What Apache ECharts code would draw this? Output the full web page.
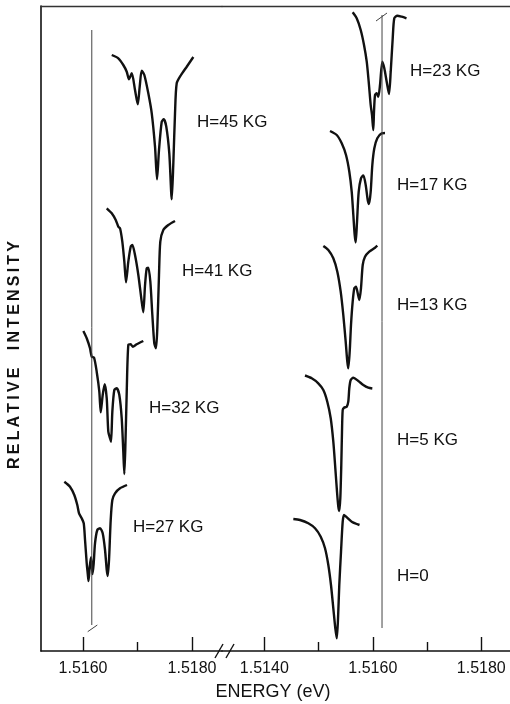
<!DOCTYPE html>
<html>
<head>
<meta charset="utf-8">
<title>Relative intensity vs energy</title>
<script src="https://cdn.jsdelivr.net/npm/echarts@6/dist/echarts.min.js"></script>
<style>
    html, body { margin: 0; padding: 0; background: #fff; }
    #main { width: 510px; height: 704px; }
</style>
</head>
<body>
<div id="main"></div>
<script>
// 数据：每条谱线 [能量 eV, 相对强度(任意单位)]
// 左半部分（高场）
var h45 = [[1.516527, 596], [1.516648, 592.7], [1.516739, 586], [1.516802, 579.3], [1.516844, 571.7],
    [1.516894, 577.7], [1.516954, 561], [1.517004, 546.7], [1.517040, 564.3], [1.517077, 580.3],
    [1.517125, 576], [1.517198, 557.7], [1.517261, 537.7], [1.517321, 504.3], [1.517358, 471.7],
    [1.517394, 501], [1.517444, 529.3], [1.517481, 531.7], [1.517528, 524.3], [1.517583, 497.7],
    [1.517628, 451.7], [1.517657, 487.7], [1.517688, 537.7], [1.517719, 567.7], [1.517798, 576],
    [1.517903, 584.3], [1.518024, 594]];
var h41 = [[1.516435, 442.7], [1.516527, 437.7], [1.516600, 431], [1.516648, 424.3], [1.516679, 422.7],
    [1.516721, 409.3], [1.516758, 389.3], [1.516789, 368.7], [1.516831, 389.3], [1.516875, 404.3],
    [1.516905, 406], [1.516954, 396], [1.517015, 376], [1.517077, 349.3], [1.517106, 338.7],
    [1.517138, 366], [1.517169, 382.7], [1.517198, 383.3], [1.517235, 369.3], [1.517272, 336],
    [1.517308, 307.7], [1.517339, 302.7], [1.517363, 322.7], [1.517394, 376], [1.517418, 409.3],
    [1.517473, 421], [1.517565, 426], [1.517688, 430]];
var h32 = [[1.516006, 320], [1.516068, 312.7], [1.516128, 302.7], [1.516160, 294.3], [1.516202, 293.3],
    [1.516251, 279.3], [1.516299, 259.3], [1.516325, 238.7], [1.516361, 256], [1.516398, 266.7],
    [1.516435, 252.7], [1.516464, 219.3], [1.516495, 212.7], [1.516514, 209.3], [1.516538, 239.3],
    [1.516574, 261], [1.516618, 262.7], [1.516666, 256], [1.516710, 232.7], [1.516739, 199.3],
    [1.516758, 177], [1.516776, 202.7], [1.516802, 259.3], [1.516831, 306], [1.516875, 306.7],
    [1.516912, 304.3], [1.516985, 306.7], [1.517106, 310]];
var h27 = [[1.515657, 169.3], [1.515761, 164.3], [1.515840, 156], [1.515895, 146], [1.515927, 137.7],
    [1.515976, 132.7], [1.516013, 127.7], [1.516037, 111], [1.516068, 87.7], [1.516086, 77.7],
    [1.516101, 70], [1.516123, 84.3], [1.516147, 93.7], [1.516174, 77], [1.516196, 87.7],
    [1.516220, 107.7], [1.516262, 121], [1.516312, 122.7], [1.516361, 117.7], [1.516404, 101],
    [1.516435, 81], [1.516453, 75], [1.516477, 91], [1.516508, 131], [1.516538, 151],
    [1.516587, 157.7], [1.516679, 162.7], [1.516807, 166]];

// 右半部分（低场）
var h23 = [[1.515629, 638.7], [1.515703, 632.7], [1.515777, 621], [1.515838, 606], [1.515888, 589.3],
    [1.515924, 569.3], [1.515961, 546], [1.515985, 536], [1.516009, 521], [1.516022, 539.3],
    [1.516041, 556], [1.516072, 557.7], [1.516101, 554.3], [1.516133, 566], [1.516175, 589.3],
    [1.516212, 582.7], [1.516256, 569.3], [1.516299, 557], [1.516330, 579.3], [1.516367, 612.7],
    [1.516396, 632.7], [1.516452, 635.3], [1.516533, 634.3], [1.516621, 632.7]];
var h17 = [[1.515211, 520], [1.515335, 516], [1.515427, 507.7], [1.515506, 496], [1.515567, 479.3],
    [1.515611, 459.3], [1.515641, 436], [1.515666, 416], [1.515685, 408.5], [1.515709, 429.3],
    [1.515740, 459.3], [1.515782, 472.7], [1.515825, 475.5], [1.515869, 466], [1.515906, 451],
    [1.515930, 447], [1.515961, 459.3], [1.515991, 486], [1.516028, 502.7], [1.516083, 512.7],
    [1.516164, 517.7], [1.516225, 518]];
var h13 = [[1.515088, 405], [1.515180, 401], [1.515272, 392.7], [1.515346, 379.3], [1.515408, 359.3],
    [1.515456, 336], [1.515500, 309.3], [1.515530, 289.3], [1.515548, 282.7], [1.515574, 299.3],
    [1.515598, 326], [1.515629, 349.3], [1.515659, 362.7], [1.515690, 364.3], [1.515722, 357.7],
    [1.515751, 351], [1.515782, 362.7], [1.515814, 386], [1.515856, 394.3], [1.515935, 399.3],
    [1.516041, 403.3], [1.516083, 405.3]];
var h5 = [[1.514750, 275.5], [1.514874, 272.7], [1.514995, 267.7], [1.515088, 261], [1.515161, 249.3],
    [1.515224, 232.7], [1.515272, 209.3], [1.515309, 182.7], [1.515340, 159.3], [1.515364, 144.3],
    [1.515381, 140], [1.515401, 152.7], [1.515419, 186], [1.515432, 219.3], [1.515445, 241],
    [1.515469, 243.3], [1.515519, 244.3], [1.515548, 249.3], [1.515567, 263], [1.515593, 271],
    [1.515641, 273.3], [1.515733, 270], [1.515825, 266], [1.515917, 263.3], [1.515991, 262.5]];
var h0 = [[1.514535, 132], [1.514658, 131], [1.514811, 127.7], [1.514935, 122.7], [1.515040, 114.3],
    [1.515119, 102.7], [1.515180, 86], [1.515229, 66], [1.515272, 42.7], [1.515309, 22.7],
    [1.515336, 12.7], [1.515359, 32.7], [1.515382, 66], [1.515414, 99.3], [1.515445, 129.3],
    [1.515469, 136], [1.515506, 134.3], [1.515611, 129.3], [1.515755, 126]];

// 参考竖线与端部短斜线
var refLineLeft = [[1.516161, 621], [1.516161, 26]];
var refTickLeft = [[1.516086, 19.3], [1.516262, 26]];
var refLineRight = [[1.516170, 636], [1.516170, 23]];
var refTickRight = [[1.516059, 630], [1.516262, 638]];

// 刻度
var leftMajor = [1.516, 1.518];
var leftMinor = [1.517];
var rightMajor = [1.514, 1.516, 1.518];
var rightMinor = [1.515, 1.517];

// 标签文字
var fieldLabels = ["H=45 KG", "H=41 KG", "H=32 KG", "H=27 KG", "H=23 KG", "H=17 KG", "H=13 KG", "H=5 KG", "H=0"];

(function () {
    var myChart = echarts.init(document.getElementById("main"));

    var ink = "#111";
    var font = "Liberation Sans, Arial, sans-serif";
    // 左右两段的能量范围（断轴）
    var leftRange = [1.515229, 1.518550];
    var rightRange = [1.513220, 1.518529];
    // 标签位置（像素）
    var labelPos = [[197, 122], [182, 271], [149, 408], [133, 527], [410, 71], [397, 185], [397, 305], [397, 440], [397, 576]];

    function fmt(v) {
        return v.toFixed(4);
    }

    // 主刻度轴
    function majorAxis(grid, range, ticks) {
        return {
            type: "value", gridIndex: grid, position: "bottom",
            min: range[0], max: range[1],
            axisLine: { show: true, onZero: false, lineStyle: { color: ink, width: 1.6 } },
            axisTick: { show: true, inside: true, length: 14, customValues: ticks, lineStyle: { color: ink, width: 1.4 } },
            axisLabel: { show: true, customValues: ticks, formatter: fmt, margin: 10, color: ink, fontSize: 16, fontFamily: font },
            splitLine: { show: false }
        };
    }
    // 短刻度轴
    function minorAxis(grid, range, ticks) {
        return {
            type: "value", gridIndex: grid, position: "bottom",
            min: range[0], max: range[1],
            axisLine: { show: false, onZero: false },
            axisTick: { show: true, inside: true, length: 9, customValues: ticks, lineStyle: { color: ink, width: 1.4 } },
            axisLabel: { show: false },
            splitLine: { show: false }
        };
    }
    // 顶部边框
    function topAxis(grid, range) {
        return {
            type: "value", gridIndex: grid, position: "top",
            min: range[0], max: range[1],
            axisLine: { show: true, onZero: false, lineStyle: { color: "#333", width: 1.4 } },
            axisTick: { show: false },
            axisLabel: { show: false },
            splitLine: { show: false }
        };
    }

    function trace(data, axis) {
        return {
            type: "line", xAxisIndex: axis, yAxisIndex: axis === 0 ? 0 : 1,
            data: data, showSymbol: false, smooth: 0.25, silent: true,
            lineStyle: { color: ink, width: 2.4 }
        };
    }
    function thin(data, axis) {
        return {
            type: "line", xAxisIndex: axis, yAxisIndex: axis === 0 ? 0 : 1,
            data: data, showSymbol: false, silent: true,
            lineStyle: { color: "#444", width: 1 }
        };
    }

    var texts = fieldLabels.map(function (t, i) {
        return {
            type: "text", x: labelPos[i][0], y: labelPos[i][1],
            style: { text: t, font: "17px " + font, fill: ink, textVerticalAlign: "middle" }
        };
    });
    // 断轴符号 //
    texts.push({ type: "line", shape: { x1: 215, y1: 658, x2: 223, y2: 644 }, style: { stroke: ink, lineWidth: 1.4 } });
    texts.push({ type: "line", shape: { x1: 226, y1: 658, x2: 234, y2: 644 }, style: { stroke: ink, lineWidth: 1.4 } });
    // 横轴名称
    texts.push({
        type: "text", x: 273, y: 692,
        style: { text: "ENERGY (eV)", font: "18px " + font, fill: ink, textAlign: "center", textVerticalAlign: "middle" }
    });
    // 纵轴名称（竖排）
    texts.push({
        type: "text", x: 15, y: 355, rotation: Math.PI / 2,
        style: {
            text: "RELATIVE\u2009 INTENSITY".split("").join("\u2009"),
            font: "bold 16px " + font, fill: ink, textAlign: "center", textVerticalAlign: "middle"
        }
    });

    var option = {
        backgroundColor: "#fff",
        animation: false,
        grid: [
            { left: 41, right: 288, top: 6, bottom: 53 },
            { left: 222, right: 0, top: 6, bottom: 53 }
        ],
        xAxis: [
            majorAxis(0, leftRange, leftMajor),
            minorAxis(0, leftRange, leftMinor),
            topAxis(0, leftRange),
            majorAxis(1, rightRange, rightMajor),
            minorAxis(1, rightRange, rightMinor),
            topAxis(1, rightRange)
        ],
        yAxis: [
            {
                type: "value", gridIndex: 0, min: 0, max: 645,
                axisLine: { show: true, onZero: false, lineStyle: { color: ink, width: 1.6 } },
                axisTick: { show: false }, axisLabel: { show: false }, splitLine: { show: false }
            },
            {
                type: "value", gridIndex: 1, min: 0, max: 645,
                axisLine: { show: false }, axisTick: { show: false }, axisLabel: { show: false }, splitLine: { show: false }
            }
        ],
        graphic: texts,
        series: [
            trace(h45, 0), trace(h41, 0), trace(h32, 0), trace(h27, 0),
            thin(refLineLeft, 0), thin(refTickLeft, 0),
            trace(h23, 3), trace(h17, 3), trace(h13, 3), trace(h5, 3), trace(h0, 3),
            thin(refLineRight, 3), thin(refTickRight, 3)
        ]
    };

    myChart.setOption(option);
    window.addEventListener("resize", function () {
        myChart.resize();
    });
})();
</script>
</body>
</html>
